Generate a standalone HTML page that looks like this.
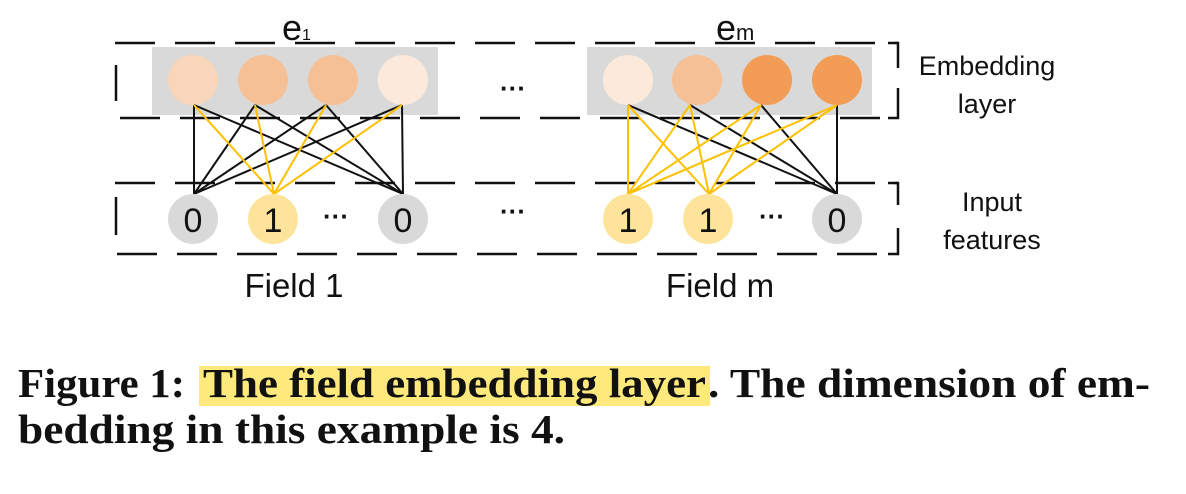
<!DOCTYPE html>
<html><head><meta charset="utf-8"><style>
html,body{margin:0;padding:0;background:#fff;width:1186px;height:494px;overflow:hidden}
svg{display:block}
.lbl{font-family:"Liberation Sans","DejaVu Sans",sans-serif;fill:#111}
.cap{font-family:"Liberation Serif",serif;font-weight:bold;font-size:41px;fill:#111}
</style></head><body>
<svg width="1186" height="494" viewBox="0 0 1186 494">
<g stroke="#111" stroke-width="2.5" stroke-dasharray="40 20" fill="none">
  <line x1="115" y1="43" x2="898" y2="43"/>
  <line x1="120" y1="118" x2="898" y2="118"/>
  <line x1="115" y1="183" x2="898" y2="183"/>
  <line x1="117" y1="254" x2="898" y2="254"/>
</g>
<g stroke="#111" stroke-width="2.5" fill="none">
  <line x1="116" y1="65" x2="116" y2="101"/>
  <line x1="116" y1="197" x2="116" y2="235"/>
  <polyline points="888,43 898,43 898,68"/>
  <polyline points="898,88 898,118 888,118"/>
  <polyline points="888,183 898,183 898,205"/>
  <polyline points="898,228 898,254 888,254"/>
</g>
<rect x="152" y="47" width="286" height="68" fill="#d9d9d9"/>
<rect x="587" y="47" width="285" height="68" fill="#d9d9d9"/>
<g>
  <circle cx="193" cy="80" r="25" fill="#f9d5b9"/>
  <circle cx="263" cy="80" r="25" fill="#f5c095"/>
  <circle cx="333" cy="80" r="25" fill="#f5c095"/>
  <circle cx="403" cy="80" r="25" fill="#fbeadb"/>
  <circle cx="628" cy="80" r="25" fill="#fbeadb"/>
  <circle cx="697" cy="80" r="25" fill="#f5c095"/>
  <circle cx="767" cy="80" r="25" fill="#f29c55"/>
  <circle cx="837" cy="80" r="25" fill="#f29c55"/>
</g>
<g stroke-width="2">
  <g stroke="#111">
    <line x1="194" y1="105" x2="194" y2="194"/><line x1="194" y1="105" x2="403" y2="194"/>
    <line x1="255" y1="105" x2="194" y2="194"/><line x1="255" y1="105" x2="403" y2="194"/>
    <line x1="326" y1="105" x2="194" y2="194"/><line x1="326" y1="105" x2="403" y2="194"/>
    <line x1="402" y1="105" x2="194" y2="194"/><line x1="402" y1="105" x2="403" y2="194"/>
    <line x1="628" y1="105" x2="837" y2="194"/><line x1="690" y1="105" x2="837" y2="194"/>
    <line x1="761" y1="105" x2="837" y2="194"/><line x1="837" y1="105" x2="837" y2="194"/>
  </g>
  <g stroke="#ffc000">
    <line x1="194" y1="105" x2="274" y2="194"/><line x1="255" y1="105" x2="274" y2="194"/>
    <line x1="326" y1="105" x2="274" y2="194"/><line x1="402" y1="105" x2="274" y2="194"/>
    <line x1="628" y1="105" x2="628" y2="194"/><line x1="628" y1="105" x2="709" y2="194"/>
    <line x1="690" y1="105" x2="628" y2="194"/><line x1="690" y1="105" x2="709" y2="194"/>
    <line x1="761" y1="105" x2="628" y2="194"/><line x1="761" y1="105" x2="709" y2="194"/>
    <line x1="837" y1="105" x2="628" y2="194"/><line x1="837" y1="105" x2="709" y2="194"/>
  </g>
</g>
<g>
  <circle cx="193" cy="219" r="25" fill="#d9d9d9"/>
  <circle cx="273" cy="219" r="25" fill="#fde49a"/>
  <circle cx="403" cy="219" r="25" fill="#d9d9d9"/>
  <circle cx="628" cy="219" r="25" fill="#fde49a"/>
  <circle cx="708" cy="219" r="25" fill="#fde49a"/>
  <circle cx="837" cy="219" r="25" fill="#d9d9d9"/>
</g>
<g class="lbl" font-size="34" text-anchor="middle">
  <text x="193" y="232">0</text><text x="273" y="232">1</text><text x="403" y="232">0</text>
  <text x="628" y="232">1</text><text x="708" y="232">1</text><text x="837" y="232">0</text>
</g>
<g class="lbl" font-size="26" font-weight="bold" text-anchor="middle">
  <text x="336" y="225">···</text><text x="772" y="225">···</text>
  <text x="513" y="97">···</text><text x="513" y="220">···</text>
</g>
<text class="lbl" x="282" y="40" font-size="36">e<tspan font-size="16">1</tspan></text>
<text class="lbl" x="716" y="40" font-size="36">e<tspan font-size="22">m</tspan></text>
<text class="lbl" x="294" y="297" font-size="33" text-anchor="middle">Field 1</text>
<text class="lbl" x="720" y="297" font-size="33" text-anchor="middle">Field m</text>
<text class="lbl" x="987" y="75" font-size="27" text-anchor="middle">Embedding</text>
<text class="lbl" x="987" y="113" font-size="27" text-anchor="middle">layer</text>
<text class="lbl" x="992" y="211" font-size="27" text-anchor="middle">Input</text>
<text class="lbl" x="992" y="249" font-size="27" text-anchor="middle">features</text>
<rect x="199" y="366" width="511" height="40" fill="#fde97c"/>
<g class="cap">
  <text x="18" y="397" textLength="167" lengthAdjust="spacingAndGlyphs">Figure 1:</text>
  <text x="203" y="397" textLength="503" lengthAdjust="spacingAndGlyphs">The field embedding layer</text>
  <text x="708" y="397" textLength="442" lengthAdjust="spacingAndGlyphs">. The dimension of em-</text>
  <text x="18" y="443" textLength="547" lengthAdjust="spacingAndGlyphs">bedding in this example is 4.</text>
</g>
</svg>
</body></html>
